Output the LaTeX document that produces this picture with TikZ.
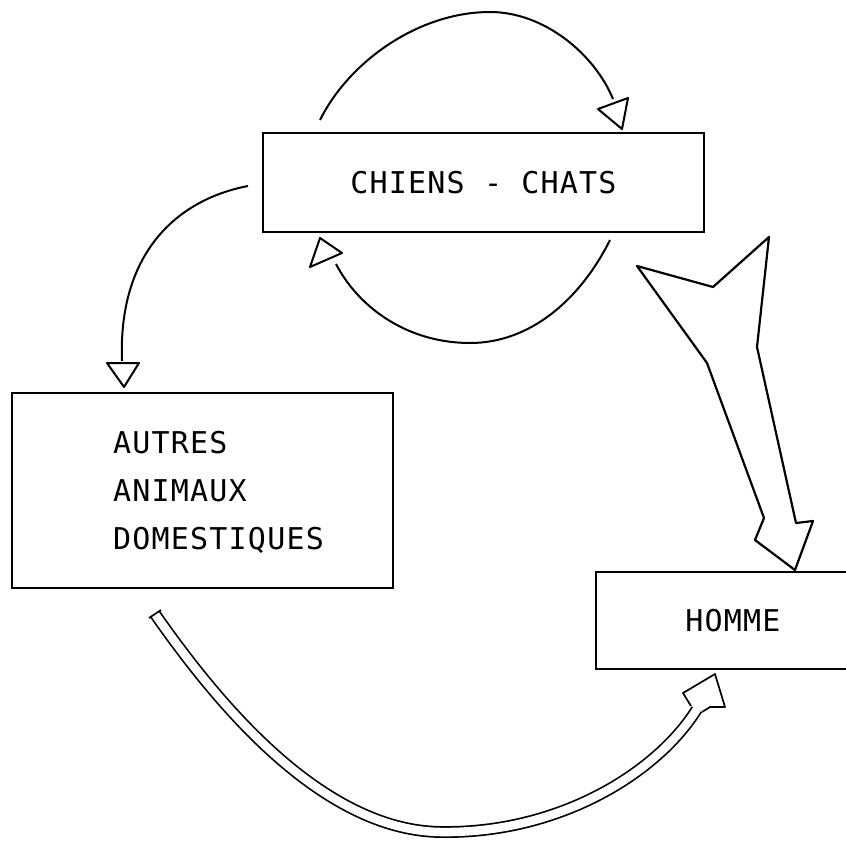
\documentclass[tikz,border=0pt]{standalone}
\usepackage{fontspec}
\newfontfamily\monof[LetterSpace=4]{DejaVu Sans Mono}
\begin{document}
\begin{tikzpicture}[x=1pt,y=-1pt,
  box/.style={draw, line width=2pt, rectangle, inner sep=0pt, font=\monof\fontsize{30}{36}\selectfont},
  lbl/.style={inner sep=0pt, font=\monof\fontsize{30}{48}\selectfont, align=left},
  loopline/.style={line width=2pt},
  headtri/.style={draw, line width=2pt, fill=white, line join=round},
  bigarrow/.style={draw, line width=2.2pt, line join=round},
  tube/.style={line width=1.7pt, double=white, double distance=8.5pt},
  tubehead/.style={draw, line width=1.7pt, fill=white, line join=round}
]
\useasboundingbox (0,0) rectangle (846,847);
\clip (0,0) rectangle (846,847);
% boxes
\node[box, minimum width=441pt, minimum height=99pt] (chiens) at (483.5,182.5) {CHIENS - CHATS};
\node[box, minimum width=381pt, minimum height=195pt] (autres) at (202.5,490.5) {};
\node[lbl, anchor=base west] (autrestxt) at (113,549) {AUTRES\\ANIMAUX\\DOMESTIQUES};
\node[box, minimum width=274pt, minimum height=97pt] (homme) at (733,620.5) {HOMME};
% coordinates
\coordinate (l1) at (248,186);
\coordinate (l2) at (122,361);
\coordinate (t1) at (320,120);
\coordinate (t2) at (613,99);
\coordinate (b1) at (610,240);
\coordinate (b2) at (336,264);
\coordinate (d1) at (155,614);
\coordinate (d2) at (697,709);
\coordinate (c1) at (149,618);
\coordinate (c2) at (161,610);
% left arrow: chiens -> autres
\draw[loopline] (l1) .. controls (175,200) and (118,255) .. (l2);
\path[headtri] (107,363) -- (139,363) -- (124,387) -- cycle;
% top loop
\draw[loopline] (t1) .. controls (350,60) and (420,12) .. (490,12) .. controls (545,12) and (595,55) .. (t2);
\path[headtri] (598,109) -- (628,98) -- (622,129) -- cycle;
% lower loop
\draw[loopline] (b1) .. controls (580,300) and (530,343) .. (470,343) .. controls (410,343) and (360,310) .. (b2);
\path[headtri] (320,238) -- (342,253) -- (310,267) -- cycle;
% big hollow arrow chiens -> homme
\path[bigarrow] (637,266) -- (713,287) -- (769,237) -- (757,347) -- (796,523) -- (813,521) -- (795,570) -- (755,540) -- (764,518) -- (707,363) -- cycle;
% bottom double arrow autres -> homme
\draw[tube] (d1) .. controls (215,700) and (320,830) .. (440,832) .. controls (560,834) and (658,772) .. (d2);
\draw[line width=1.7pt] (c1) -- (c2);
\path[tubehead] (691,706) -- (683,693) -- (715,674) -- (725,707) -- (710,707) -- (702,712);
\end{tikzpicture}
\end{document}
